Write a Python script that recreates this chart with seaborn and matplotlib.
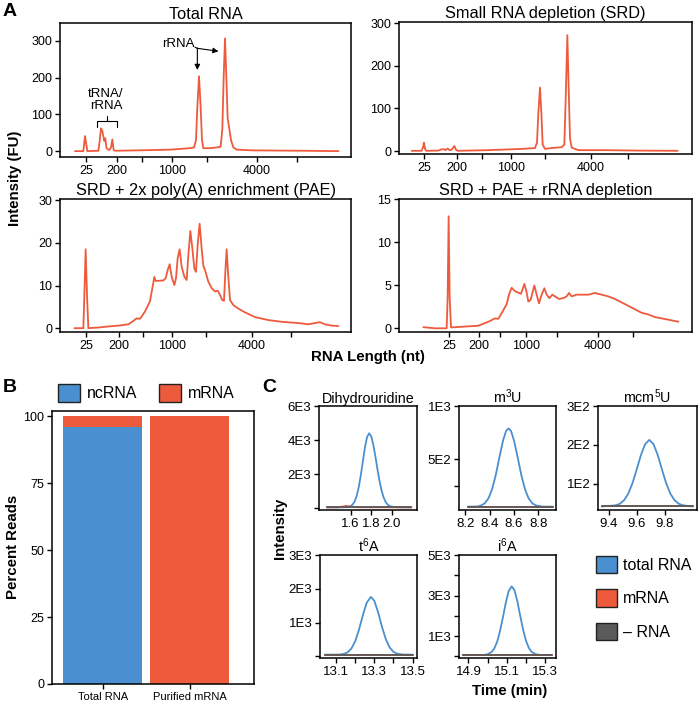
import numpy as np
import pandas as pd
import matplotlib
matplotlib.use("Agg")
import matplotlib.pyplot as plt
from matplotlib.patches import Patch
import seaborn as sns

# ---------------------------------------------------------------- data
# A : Bioanalyzer traces (x = migration time, s ; y = FU)
total_t = [18.0, 19.67, 20.0, 20.47, 22.67, 22.87, 23.2, 23.47, 23.67, 23.87, 24.07, 24.27, 24.53,
           24.87, 25.2, 25.47, 25.73, 26.0, 30.33, 37.0, 41.0, 41.8, 42.2, 42.47, 42.8, 43.13, 43.4,
           43.67, 45.0, 46.33, 47.13, 47.47, 47.73, 48.0, 48.27, 48.53, 48.87, 49.2, 49.67, 50.33,
           53.67, 63.67, 70.67]
total_fu = [0, 0, 41, 0, 1, 20, 62, 55, 40, 28, 35, 10, 5,
            3, 10, 32, 3, 1, 2, 4, 8, 10, 30, 120, 204, 120, 30,
            8, 8, 10, 12, 60, 200, 307, 200, 90, 60, 30, 10, 4,
            2, 1, 0]

srd_t = [17.53, 19.53, 19.8, 20.0, 20.2, 20.47, 22.87, 23.53, 24.07, 24.33, 24.73, 25.13, 25.53,
         26.07, 26.4, 26.73, 32.87, 39.53, 42.2, 42.6, 42.87, 43.2, 43.47, 43.73, 44.2, 45.53,
         47.53, 48.07, 48.33, 48.67, 48.93, 49.2, 49.53, 50.87, 56.2, 62.87, 70.73]
srd_fu = [0.5, 0.5, 9, 19.6, 5, 0.5, 1, 4, 4, 2, 6, 2, 3,
          11.8, 3, 0.5, 2, 5, 7, 20, 90, 149, 90, 15, 5, 7,
          9, 15, 120, 272, 150, 30, 8, 2, 2, 1, 0.5]

pae_t = [17.87, 19.67, 19.87, 20.13, 20.4, 20.67, 22.67, 24.67, 26.67, 28.67, 29.67, 30.33, 31.0,
         32.0, 33.0, 33.47, 33.87, 34.13, 34.67, 35.67, 36.13, 36.53, 36.93, 37.33, 37.87, 38.2,
         38.53, 38.93, 39.33, 39.87, 40.33, 40.67, 41.07, 41.47, 41.87, 42.2, 42.53, 42.93, 43.33,
         43.67, 44.0, 44.67, 45.33, 46.0, 46.53, 47.0, 47.47, 47.8, 48.07, 48.33, 48.6, 49.0,
         49.67, 50.67, 52.0, 54.0, 56.67, 59.33, 62.67, 64.67, 66.0, 67.0, 68.0, 69.33, 70.67]
pae_fu = [0, 0, 7.8, 18.5, 7.8, 0, 0.15, 0.4, 0.6, 0.9, 1.7, 2.3, 2.2,
          3.9, 6.3, 9.4, 12.0, 11.1, 11.1, 11.2, 11.7, 13.6, 15.0, 12.1, 10.1, 11.7,
          16.4, 18.5, 14.4, 12.1, 11.3, 17.1, 22.8, 18.7, 14.0, 13.2, 19.5, 24.5, 18.7,
          14.6, 13.6, 10.9, 9.4, 8.6, 8.8, 7.8, 6.6, 6.4, 13.2, 18.5, 13.2, 6.6,
          5.4, 4.6, 3.7, 2.6, 1.9, 1.5, 1.2, 0.9, 1.2, 1.4, 0.9, 0.6, 0.5]

rrd_t = [19.87, 22.2, 24.53, 24.73, 24.93, 25.13, 25.4, 28.2, 30.87, 32.2, 33.2, 34.2, 34.87,
         35.67, 36.53, 37.0, 37.53, 38.2, 39.4, 40.07, 40.47, 40.87, 41.33, 42.07, 42.53, 43.0,
         43.53, 44.07, 44.53, 45.07, 45.67, 46.2, 47.0, 47.87, 48.53, 49.0, 49.53, 50.53, 51.53,
         52.87, 54.2, 55.53, 56.87, 58.2, 59.53, 60.87, 62.2, 63.53, 64.87, 66.2, 67.53, 68.87,
         70.87]
rrd_fu = [0.13, 0, 0, 3.6, 13.0, 3.6, 0.1, 0.2, 0.3, 0.6, 0.85, 1.15, 1.1,
          1.9, 2.8, 3.9, 4.7, 4.3, 4.0, 5.15, 4.3, 3.1, 3.3, 4.97, 3.9, 2.9,
          3.9, 4.65, 3.9, 3.5, 3.9, 3.7, 3.4, 3.5, 3.7, 4.1, 3.7, 3.9, 3.9,
          3.9, 4.1, 3.9, 3.7, 3.4, 3.0, 2.6, 2.2, 1.8, 1.6, 1.3, 1.15, 1.0,
          0.76]

# ladder positions (25, 200, 500, 1000, 2000, 4000, 6000 nt) per run
ladder_labels = ["25", "200", "", "1000", "", "4000", ""]
ladder_total = [20.2, 26.4, 31.4, 37.4, 44.4, 54.4, 62.4]
ladder_srd = [20.0, 26.6, 31.6, 37.4, 44.2, 53.4, 60.8]
ladder_pae = [20.2, 26.8, 31.6, 37.4, 44.2, 53.4, 61.2]
ladder_rrd = [25.0, 31.0, 35.2, 40.4, 46.6, 54.8, 61.8]

# B : read composition (%)
samples = ["Total RNA", "Purified mRNA"]
ncrna_pct = [96, 0]
mrna_pct = [4, 100]

# C : LC-MS chromatograms (time in min, intensity)
dhu_t = [1.37, 1.50, 1.58, 1.60, 1.62, 1.64, 1.66, 1.68, 1.70, 1.72, 1.74, 1.76, 1.78, 1.80,
         1.82, 1.84, 1.86, 1.88, 1.90, 1.92, 1.94, 1.96, 1.98, 2.02, 2.10, 2.19]
dhu_total = [55, 55, 70, 124, 220, 407, 745, 1263, 1967, 2795, 3596, 4183, 4400, 4226,
             3744, 3066, 2314, 1620, 1055, 642, 372, 215, 129, 70, 60, 55]
dhu_mrna_t = [1.37, 1.48, 1.53, 1.56, 1.59, 1.63, 1.70, 2.19]
dhu_mrna = [55, 60, 110, 140, 110, 70, 60, 55]
dhu_blank = [50, 50]

m3u_t = [8.22, 8.30, 8.33, 8.36, 8.39, 8.42, 8.45, 8.48, 8.51, 8.535, 8.555, 8.575, 8.60, 8.63,
         8.66, 8.69, 8.72, 8.75, 8.78, 8.83, 8.92]
m3u_total = [56, 58, 68, 88, 134, 220, 352, 519, 677, 767, 790, 767, 677, 519,
             352, 220, 134, 88, 68, 57, 56]
m3u_base = [56, 56]

mcm5u_t = [9.35, 9.45, 9.48, 9.51, 9.54, 9.57, 9.60, 9.63, 9.66, 9.69, 9.72, 9.75, 9.78, 9.81,
           9.84, 9.87, 9.90, 9.93, 10.0]
mcm5u_total = [42, 45, 49, 58, 75, 102, 137, 174, 202, 213, 202, 174, 137, 102,
               75, 58, 49, 45, 42]
mcm5u_base = [42, 42]

t6a_t = [13.04, 13.12, 13.14, 13.16, 13.18, 13.20, 13.22, 13.24, 13.26, 13.282, 13.30, 13.32,
         13.34, 13.36, 13.38, 13.40, 13.42, 13.45, 13.50]
t6a_total = [49, 52, 70, 117, 229, 446, 793, 1215, 1588, 1759, 1643, 1299,
             870, 506, 263, 133, 77, 52, 49]
t6a_base = [49, 49]

i6a_t = [14.87, 14.98, 15.00, 15.02, 15.035, 15.05, 15.065, 15.08, 15.095, 15.11, 15.126, 15.14,
         15.155, 15.17, 15.185, 15.20, 15.215, 15.23, 15.25, 15.27, 15.335]
i6a_total = [65, 72, 102, 207, 387, 722, 1248, 1925, 2643, 3216, 3453, 3270,
             2735, 2020, 1332, 783, 424, 221, 109, 74, 65]
i6a_base = [65, 65]

# ---------------------------------------------------------------- style
sns.set_style("ticks")
plt.rcParams["font.family"] = ["Liberation Sans", "DejaVu Sans"]
plt.rcParams["mathtext.fontset"] = "custom"
plt.rcParams["mathtext.rm"] = "Liberation Sans"
plt.rcParams["mathtext.it"] = "Liberation Sans:italic"
plt.rcParams["mathtext.bf"] = "Liberation Sans:bold"
plt.rcParams["axes.linewidth"] = 1.1
plt.rcParams["xtick.major.width"] = 1.0
plt.rcParams["ytick.major.width"] = 1.0
plt.rcParams["xtick.major.size"] = 3.5
plt.rcParams["ytick.major.size"] = 3.5
plt.rcParams["xtick.major.pad"] = 2
plt.rcParams["ytick.major.pad"] = 2
plt.rcParams["text.color"] = "black"
plt.rcParams["xtick.color"] = "black"
plt.rcParams["ytick.color"] = "black"
plt.rcParams["axes.edgecolor"] = "black"

RED = "#EE5A3C"
BLUE = "#4A90D0"
GREY = "#5A5A5A"
LAB = 10.8

W, H = 700, 704
fig = plt.figure(figsize=(W / 100, H / 100), dpi=100)


def box(x0, y0, x1, y1):
    return [x0 / W, 1 - y1 / H, (x1 - x0) / W, (y1 - y0) / H]


# ---------------------------------------------------------------- panel A
a_specs = [
    ("Total RNA", box(60, 23, 351, 157), total_t, total_fu, ladder_total, (-16, 349), [0, 100, 200, 300], 73.2),
    ("Small RNA depletion (SRD)", box(399, 22, 692, 154), srd_t, srd_fu, ladder_srd, (-7, 303), [0, 100, 200, 300], 73.6),
    ("SRD + 2x poly(A) enrichment (PAE)", box(60, 199, 351, 332), pae_t, pae_fu, ladder_pae, (-0.9, 30.3), [0, 10, 20, 30], 73.2),
    ("SRD + PAE + rRNA depletion", box(399, 199, 692, 332), rrd_t, rrd_fu, ladder_rrd, (-0.43, 15.0), [0, 5, 10, 15], 73.6),
]
a_axes = []
for title, pos, xs, ys, ticks, ylim, yticks, xmax in a_specs:
    ax = fig.add_axes(pos)
    sns.lineplot(x=xs, y=ys, ax=ax, color=RED, lw=1.3, errorbar=None)
    ax.set_xlim(15, xmax)
    ax.set_ylim(*ylim)
    ax.set_xticks(ticks)
    ax.set_xticklabels(ladder_labels, fontsize=9)
    ax.set_yticks(yticks)
    ax.set_yticklabels([str(v) for v in yticks], fontsize=9)
    ax.set_title(title, fontsize=11.8, pad=3)
    a_axes.append(ax)

# annotations on Total RNA
ax = a_axes[0]
ax.text(24.2, 140, "tRNA/\nrRNA", ha="center", va="center", fontsize=9.5, linespacing=1.0)
ax.plot([22.46, 22.46, 26.46, 26.46], [65, 82.6, 82.6, 65], color="k", lw=0.8)
ax.plot([24.46, 24.46], [82.6, 95], color="k", lw=0.8)
ax.text(42.0, 292, "rRNA", ha="right", va="center", fontsize=9.5)
ax.plot([42.0, 42.47], [283, 280], color="k", lw=0.8)
ax.annotate("", xy=(42.47, 221), xytext=(42.47, 281),
            arrowprops=dict(arrowstyle="-|>", lw=0.8, color="k", mutation_scale=8, shrinkA=0, shrinkB=0))
ax.annotate("", xy=(46.7, 272), xytext=(42.47, 280),
            arrowprops=dict(arrowstyle="-|>", lw=0.8, color="k", mutation_scale=8, shrinkA=0, shrinkB=0))

fig.text(3 / W, 1 - 11 / H, "A", fontsize=14, fontweight="bold", va="center", ha="left")
fig.text(15 / W, 1 - 178 / H, "Intensity (FU)", rotation=90, fontsize=LAB, fontweight="bold",
         ha="center", va="center")
fig.text(368 / W, 1 - 357 / H, "RNA Length (nt)", fontsize=LAB, fontweight="bold",
         ha="center", va="center")

# ---------------------------------------------------------------- panel B
axb = fig.add_axes(box(52, 411, 254, 684))
totals = [a + b for a, b in zip(ncrna_pct, mrna_pct)]
sns.barplot(x=samples, y=totals, ax=axb, color=RED, width=0.91, saturation=1, linewidth=0)
sns.barplot(x=samples, y=ncrna_pct, ax=axb, color=BLUE, width=0.91, saturation=1, linewidth=0)
axb.set_xlim(-0.584, 1.74)
axb.set_ylim(0, 102)
axb.set_yticks([0, 25, 50, 75, 100])
axb.set_yticklabels(["0", "25", "50", "75", "100"], fontsize=9)
axb.tick_params(axis="x", labelsize=8)
axb.set_ylabel("")
axb.set_xlabel("")
fig.text(13 / W, 1 - 547 / H, "Percent Reads", rotation=90, fontsize=LAB, fontweight="bold",
         ha="center", va="center")
handles = [Patch(facecolor=BLUE, edgecolor="#222222", lw=1.0),
           Patch(facecolor=RED, edgecolor="#222222", lw=1.0)]
fig.legend(handles, ["ncRNA", "mRNA"], ncol=2, loc="center left",
           bbox_to_anchor=(58 / W, 1 - 393 / H), frameon=False, fontsize=11.5,
           handlelength=1.35, handleheight=1.35, handletextpad=0.45, columnspacing=1.4,
           borderpad=0, borderaxespad=0)
fig.text(3 / W, 1 - 388 / H, "B", fontsize=14, fontweight="bold", va="center", ha="left")

# ---------------------------------------------------------------- panel C
c_specs = [
    ("Dihydrouridine", box(319, 406, 417, 510), dhu_t, dhu_total, (dhu_mrna_t, dhu_mrna), dhu_blank,
     (1.294, 2.244), (-100, 6000), [1.6, 1.8, 2.0], ["1.6", "1.8", "2.0"],
     [0, 2000, 4000, 6000], ["", "2E3", "4E3", "6E3"]),
    ("m$^{3}$U", box(459, 406, 556, 510), m3u_t, m3u_total, ([8.22, 8.92], m3u_base), m3u_base,
     (8.148, 8.945), (25, 1000), [8.2, 8.4, 8.6, 8.8], ["8.2", "8.4", "8.6", "8.8"],
     [250, 500, 1000], ["", "5E2", "1E3"]),
    ("mcm$^{5}$U", box(598, 406, 697, 510), mcm5u_t, mcm5u_total, ([9.35, 10.0], mcm5u_base), mcm5u_base,
     (9.324, 10.03), (33, 300), [9.4, 9.6, 9.8], ["9.4", "9.6", "9.8"],
     [100, 200, 300], ["1E2", "2E2", "3E2"]),
    ("t$^{6}$A", box(320, 555, 417, 658), t6a_t, t6a_total, ([13.04, 13.50], t6a_base), t6a_base,
     (13.016, 13.523), (-50, 3000), [13.1, 13.2, 13.3, 13.4, 13.5], ["13.1", "", "13.3", "", "13.5"],
     [0, 1000, 2000, 3000], ["", "1E3", "2E3", "3E3"]),
    ("i$^{6}$A", box(459, 555, 556, 658), i6a_t, i6a_total, ([14.87, 15.335], i6a_base), i6a_base,
     (14.851, 15.357), (-80, 5000), [14.9, 15.0, 15.1, 15.2, 15.3], ["14.9", "", "15.1", "", "15.3"],
     [0, 1000, 2000, 3000, 4000, 5000], ["", "1E3", "", "3E3", "", "5E3"]),
]
for title, pos, ts, tot, mr, blank, xlim, ylim, xt, xtl, yt, ytl in c_specs:
    ax = fig.add_axes(pos)
    sns.lineplot(x=ts, y=tot, ax=ax, color=BLUE, lw=1.3, errorbar=None)
    sns.lineplot(x=mr[0], y=mr[1], ax=ax, color=RED, lw=1.3, errorbar=None)
    sns.lineplot(x=[ts[0], ts[-1]], y=blank, ax=ax, color=GREY, lw=1.3, errorbar=None)
    ax.set_xlim(*xlim)
    ax.set_ylim(*ylim)
    ax.set_xticks(xt)
    ax.set_xticklabels(xtl, fontsize=9.5)
    ax.set_yticks(yt)
    ax.set_yticklabels(ytl, fontsize=9.5)
    ax.set_title(title, fontsize=10.3, pad=2)

fig.text(262 / W, 1 - 388 / H, "C", fontsize=14, fontweight="bold", va="center", ha="left")
fig.text(280 / W, 1 - 528 / H, "Intensity", rotation=90, fontsize=LAB, fontweight="bold",
         ha="center", va="center")
fig.text(510 / W, 1 - 691 / H, "Time (min)", fontsize=LAB, fontweight="bold",
         ha="center", va="center")

c_handles = [Patch(facecolor=BLUE, edgecolor="#222222", lw=1.0),
             Patch(facecolor=RED, edgecolor="#222222", lw=1.0),
             Patch(facecolor=GREY, edgecolor="#222222", lw=1.0)]
fig.legend(c_handles, ["total RNA", "mRNA", "\u2013 RNA"], loc="upper left",
           bbox_to_anchor=(596 / W, 1 - 556 / H), frameon=False, fontsize=11.5,
           handlelength=1.3, handleheight=1.3, handletextpad=0.4, labelspacing=1.0,
           borderpad=0, borderaxespad=0)

fig.savefig("out.png", dpi=100)
